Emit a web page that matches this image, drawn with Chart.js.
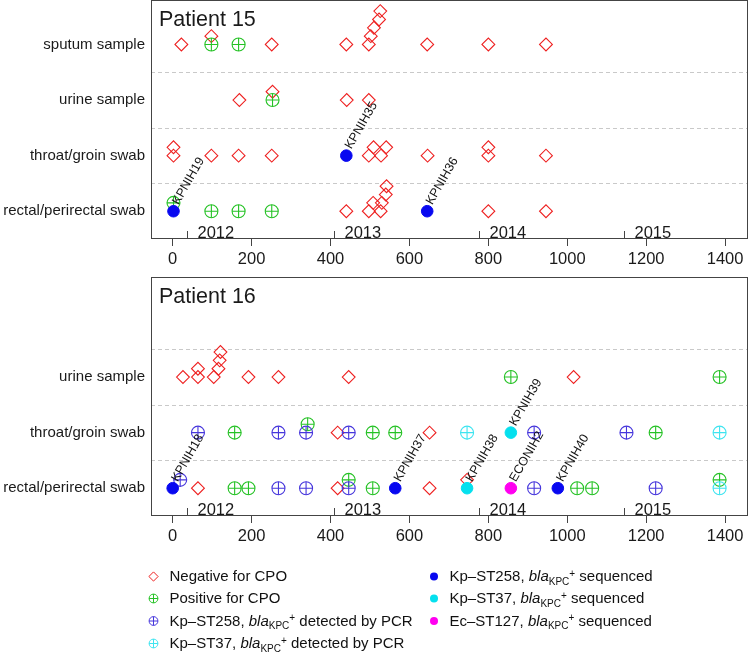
<!DOCTYPE html>
<html><head><meta charset="utf-8">
<script src="https://cdn.jsdelivr.net/npm/chart.js@4.4.1/dist/chart.umd.min.js"></script>
<style>
html,body{margin:0;padding:0;background:#fff;width:750px;height:656px;overflow:hidden}
canvas{position:absolute;left:0;display:block}
</style></head>
<body>
<canvas id="c1" width="750" height="272" style="top:0px;width:750px;height:272px"></canvas>
<canvas id="c2" width="750" height="384" style="top:272px;width:750px;height:384px"></canvas>
<script>
// ---------------- data ----------------
const rowNames = ['rectal/perirectal swab', 'throat/groin swab', 'urine sample', 'sputum sample'];
const xTickValues = [0, 200, 400, 600, 800, 1000, 1200, 1400];
const yearStartDays = [36, 408, 776, 1143];
const yearLabels = ['2012', '2013', '2014', '2015'];
const separatorValues = [1.5, 2.5, 3.5];

// Patient 15  (row: 1 rectal, 2 throat, 3 urine, 4 sputum; stack = order of repeated sample)
const p15Title = 'Patient 15';
const p15Rows = [1, 2, 3, 4];
const p15NegDay   = [22, 98, 251, 440, 497, 502, 510, 523, 526, 645, 800, 946,
                     169, 253, 441, 497,
                     2, 2, 98, 167, 251, 497, 509, 528, 541, 646, 800, 800, 946,
                     440, 497, 508, 527, 530, 540, 542, 800, 946];
const p15NegRow   = [4, 4, 4, 4, 4, 4, 4, 4, 4, 4, 4, 4,
                     3, 3, 3, 3,
                     2, 2, 2, 2, 2, 2, 2, 2, 2, 2, 2, 2, 2,
                     1, 1, 1, 1, 1, 1, 1, 1, 1];
const p15NegStack = [0, 1, 0, 0, 0, 1, 2, 3, 4, 0, 0, 0,
                     0, 1, 0, 0,
                     1, 0, 0, 0, 0, 0, 1, 0, 1, 0, 0, 1, 0,
                     0, 0, 1, 0, 1, 2, 3, 0, 0];
const p15PosDay   = [98, 167, 253, 2, 98, 167, 251];
const p15PosRow   = [4, 4, 3, 1, 1, 1, 1];
const p15PosStack = [0, 0, 0, 1, 0, 0, 0];
const p15Pcr258Day = [], p15Pcr258Row = [], p15Pcr258Stack = [];
const p15Pcr37Day = [], p15Pcr37Row = [], p15Pcr37Stack = [];
const p15Seq258Day = [2, 440, 645];
const p15Seq258Row = [1, 2, 1];
const p15Seq258Stack = [0, 0, 0];
const p15Seq258Label = ['KPNIH19', 'KPNIH35', 'KPNIH36'];
const p15Seq37Day = [], p15Seq37Row = [], p15Seq37Stack = [], p15Seq37Label = [];
const p15Seq127Day = [], p15Seq127Row = [], p15Seq127Stack = [], p15Seq127Label = [];

// Patient 16
const p16Title = 'Patient 16';
const p16Rows = [1, 2, 3];
const p16NegDay   = [26, 64, 64, 104, 116, 119, 121, 192, 268, 446, 1016,
                     418, 651,
                     64, 418, 651, 746];
const p16NegRow   = [3, 3, 3, 3, 3, 3, 3, 3, 3, 3, 3,
                     2, 2,
                     1, 1, 1, 1];
const p16NegStack = [0, 0, 1, 0, 1, 2, 3, 0, 0, 0, 0,
                     0, 0,
                     0, 0, 0, 1];
const p16PosDay   = [857, 1386, 157, 342, 507, 564, 1224, 157, 192, 446, 507, 1025, 1063, 1386];
const p16PosRow   = [3, 3, 2, 2, 2, 2, 2, 1, 1, 1, 1, 1, 1, 1];
const p16PosStack = [0, 0, 0, 1, 0, 0, 0, 0, 0, 1, 0, 0, 0, 1];
const p16Pcr258Day   = [64, 268, 338, 446, 916, 1150, 19, 268, 338, 446, 916, 1224];
const p16Pcr258Row   = [2, 2, 2, 2, 2, 2, 1, 1, 1, 1, 1, 1];
const p16Pcr258Stack = [0, 0, 0, 0, 0, 0, 1, 0, 0, 0, 0, 0];
const p16Pcr37Day   = [746, 1386, 1386];
const p16Pcr37Row   = [2, 2, 1];
const p16Pcr37Stack = [0, 0, 0];
const p16Seq258Day = [0, 564, 976];
const p16Seq258Row = [1, 1, 1];
const p16Seq258Stack = [0, 0, 0];
const p16Seq258Label = ['KPNIH18', 'KPNIH37', 'KPNIH40'];
const p16Seq37Day = [857, 746];
const p16Seq37Row = [2, 1];
const p16Seq37Stack = [0, 0];
const p16Seq37Label = ['KPNIH39', 'KPNIH38'];
const p16Seq127Day = [857];
const p16Seq127Row = [1];
const p16Seq127Stack = [0];
const p16Seq127Label = ['ECONIH2'];

// legend texts
const sup = '+', sub = 'KPC', italic = 'bla';
const legendCol1 = [
  {key: 'neg', parts: [['Negative for CPO', 'n']]},
  {key: 'pos', parts: [['Positive for CPO', 'n']]},
  {key: 'pcr258', parts: [['Kp\u2013ST258, ', 'n'], [italic, 'i'], [sub, 'sub'], [sup, 'sup'], [' detected by PCR', 'n']]},
  {key: 'pcr37', parts: [['Kp\u2013ST37, ', 'n'], [italic, 'i'], [sub, 'sub'], [sup, 'sup'], [' detected by PCR', 'n']]}
];
const legendCol2 = [
  {key: 'seq258', parts: [['Kp\u2013ST258, ', 'n'], [italic, 'i'], [sub, 'sub'], [sup, 'sup'], [' sequenced', 'n']]},
  {key: 'seq37', parts: [['Kp\u2013ST37, ', 'n'], [italic, 'i'], [sub, 'sub'], [sup, 'sup'], [' sequenced', 'n']]},
  {key: 'seq127', parts: [['Ec\u2013ST127, ', 'n'], [italic, 'i'], [sub, 'sub'], [sup, 'sup'], [' sequenced', 'n']]}
];

// ---------------- styles ----------------
const FONT = '"Liberation Sans", Arial, Helvetica, sans-serif';
const COLORS = {
  neg: '#ee1f1f', pos: '#25c225', pcr258: '#4636dc', pcr37: '#3ee4f0',
  seq258: '#0808f0', seq37: '#05e0ee', seq127: '#ff00f0'
};
const STACK_STEP = 0.15;

function pts(day, row, stack) {
  return day.map((d, i) => ({x: d, y: row[i] + STACK_STEP * stack[i]}));
}

function filledDs(data, color, labels) {
  return {data, pointStyle: 'circle', pointRadius: 5.8, pointHoverRadius: 5.8,
    pointBackgroundColor: color, pointBorderColor: color, pointBorderWidth: 1, isoLabels: labels};
}
function openDs(data, color, style, r) {
  return {data, pointStyle: style, pointRadius: r, pointHoverRadius: r,
    pointBackgroundColor: 'rgba(0,0,0,0)', pointBorderColor: color, pointBorderWidth: 1.1};
}

function buildDatasets(p) {
  const ds = [];
  ds.push(filledDs(pts(p.seq127[0], p.seq127[1], p.seq127[2]), COLORS.seq127, p.seq127[3]));
  ds.push(filledDs(pts(p.seq37[0], p.seq37[1], p.seq37[2]), COLORS.seq37, p.seq37[3]));
  ds.push(filledDs(pts(p.seq258[0], p.seq258[1], p.seq258[2]), COLORS.seq258, p.seq258[3]));
  [['pcr37', p.pcr37], ['pcr258', p.pcr258], ['pos', p.pos]].forEach(([k, a]) => {
    const d = pts(a[0], a[1], a[2]);
    ds.push(openDs(d, COLORS[k], 'cross', 6.5));
    ds.push(openDs(d, COLORS[k], 'circle', 6.5));
  });
  ds.push(openDs(pts(p.neg[0], p.neg[1], p.neg[2]), COLORS.neg, 'rectRot', 6.4));
  return ds;
}

// ---------------- plugins ----------------
const decorPlugin = {
  id: 'decor',
  beforeDatasetsDraw(chart) {
    const {ctx, chartArea: a, scales: {x, y}} = chart;
    const panel = chart.options.plugins.decor;
    ctx.save();
    ctx.strokeStyle = '#c9c9c9'; ctx.lineWidth = 1; ctx.setLineDash([4, 3]);
    separatorValues.forEach(v => {
      const py = Math.round(y.getPixelForValue(v)) + 0.5;
      ctx.beginPath(); ctx.moveTo(a.left, py); ctx.lineTo(a.right, py); ctx.stroke();
    });
    ctx.setLineDash([]);
    ctx.strokeStyle = '#444';
    ctx.strokeRect(Math.round(a.left) + 0.5, Math.round(a.top) + 0.5,
      Math.round(a.right - a.left) - 1, Math.round(a.bottom - a.top) - 1);
    // year ticks and labels
    ctx.font = '16.5px ' + FONT; ctx.fillStyle = '#1a1a1a';
    ctx.textAlign = 'left'; ctx.textBaseline = 'alphabetic';
    yearStartDays.forEach((d, i) => {
      const px = Math.round(x.getPixelForValue(d)) + 0.5;
      ctx.beginPath(); ctx.moveTo(px, a.bottom - 8); ctx.lineTo(px, a.bottom); ctx.stroke();
      ctx.fillText(yearLabels[i], px + 10, a.bottom - 1.5);
    });
    // title
    ctx.font = '21.5px ' + FONT;
    ctx.fillText(panel.title, a.left + 8, a.top + 25.5);
    ctx.restore();
  }
};

const isoLabelPlugin = {
  id: 'isoLabels',
  afterDatasetsDraw(chart) {
    const ctx = chart.ctx;
    ctx.save();
    ctx.font = '12.5px ' + FONT; ctx.fillStyle = '#111';
    ctx.textAlign = 'left'; ctx.textBaseline = 'middle';
    chart.data.datasets.forEach((ds, di) => {
      if (!ds.isoLabels) return;
      const meta = chart.getDatasetMeta(di);
      meta.data.forEach((pt, i) => {
        const lab = ds.isoLabels[i];
        if (!lab) return;
        ctx.save();
        ctx.translate(pt.x + 2, pt.y - 7.5);
        ctx.rotate(-Math.PI / 3);
        ctx.fillText(lab, 0, 0);
        ctx.restore();
      });
    });
    ctx.restore();
  }
};

function drawSymbol(ctx, key, x, y) {
  ctx.save();
  ctx.lineWidth = 1;
  const c = COLORS[key];
  ctx.strokeStyle = c; ctx.fillStyle = c;
  ctx.beginPath();
  if (key === 'neg') {
    const r = 4.6;
    ctx.moveTo(x - r, y); ctx.lineTo(x, y - r); ctx.lineTo(x + r, y); ctx.lineTo(x, y + r); ctx.closePath();
    ctx.stroke();
  } else if (key.startsWith('seq')) {
    ctx.arc(x, y, 4, 0, Math.PI * 2); ctx.fill();
  } else {
    const r = 4.4;
    ctx.arc(x, y, r, 0, Math.PI * 2);
    ctx.moveTo(x - r, y); ctx.lineTo(x + r, y);
    ctx.moveTo(x, y - r); ctx.lineTo(x, y + r);
    ctx.stroke();
  }
  ctx.restore();
}

const legendPlugin = {
  id: 'customLegend',
  afterDraw(chart) {
    const opts = chart.options.plugins.customLegend;
    if (!opts || !opts.show) return;
    const ctx = chart.ctx;
    ctx.save();
    ctx.fillStyle = '#111'; ctx.textAlign = 'left'; ctx.textBaseline = 'alphabetic';
    const baselines = [309, 331, 353.5, 376];
    const cols = [[legendCol1, 153.5, 169.5], [legendCol2, 434, 449.5]];
    cols.forEach(([items, sx, tx]) => {
      items.forEach((it, i) => {
        const b = baselines[i];
        drawSymbol(ctx, it.key, sx, b - 4.5);
        let cx = tx;
        it.parts.forEach(([t, k]) => {
          let dy = 0;
          if (k === 'n') ctx.font = '15px ' + FONT;
          else if (k === 'i') ctx.font = 'italic 15px ' + FONT;
          else if (k === 'sub') { ctx.font = '10px ' + FONT; dy = 3.5; }
          else { ctx.font = '10px ' + FONT; dy = -4.5; }
          ctx.fillText(t, cx, b + dy);
          cx += ctx.measureText(t).width;
        });
      });
    });
    ctx.restore();
  }
};

function zeroPad(s) { s.paddingTop = 0; s.paddingBottom = 0; s.paddingLeft = 0; s.paddingRight = 0; }

function makeChart(id, p, padding, showLegend) {
  return new Chart(document.getElementById(id), {
    type: 'scatter',
    data: {datasets: buildDatasets(p)},
    plugins: [decorPlugin, isoLabelPlugin, legendPlugin],
    options: {
      responsive: false, animation: false, devicePixelRatio: 1, events: [],
      layout: {padding, autoPadding: false},
      plugins: {legend: {display: false}, tooltip: {enabled: false},
        decor: {title: p.title}, customLegend: {show: showLegend}},
      scales: {
        x: {
          type: 'linear', min: -55, max: 1458,
          afterBuildTicks: s => { s.ticks = xTickValues.map(v => ({value: v})); },
          afterFit: s => { s.height = 33; zeroPad(s); },
          grid: {drawOnChartArea: false, drawTicks: true, tickLength: 7, color: '#444', lineWidth: 1},
          border: {display: false},
          ticks: {font: {family: FONT, size: 16.5}, color: '#1a1a1a', padding: 4,
            maxRotation: 0, autoSkip: false, callback: v => String(v)}
        },
        y: {
          type: 'linear', min: 0.5, max: 4.8,
          afterBuildTicks: s => { s.ticks = [1, 2, 3, 4].map(v => ({value: v})); },
          afterFit: s => { s.width = 151; zeroPad(s); },
          grid: {display: false, drawTicks: false},
          border: {display: false},
          ticks: {font: {family: FONT, size: 15}, color: '#1a1a1a', padding: 6, autoSkip: false,
            callback: v => (p.rows.includes(v) ? rowNames[v - 1] : '')}
        }
      }
    }
  });
}

const panel15 = {
  title: p15Title, rows: p15Rows,
  neg: [p15NegDay, p15NegRow, p15NegStack], pos: [p15PosDay, p15PosRow, p15PosStack],
  pcr258: [p15Pcr258Day, p15Pcr258Row, p15Pcr258Stack], pcr37: [p15Pcr37Day, p15Pcr37Row, p15Pcr37Stack],
  seq258: [p15Seq258Day, p15Seq258Row, p15Seq258Stack, p15Seq258Label],
  seq37: [p15Seq37Day, p15Seq37Row, p15Seq37Stack, p15Seq37Label],
  seq127: [p15Seq127Day, p15Seq127Row, p15Seq127Stack, p15Seq127Label]
};
const panel16 = {
  title: p16Title, rows: p16Rows,
  neg: [p16NegDay, p16NegRow, p16NegStack], pos: [p16PosDay, p16PosRow, p16PosStack],
  pcr258: [p16Pcr258Day, p16Pcr258Row, p16Pcr258Stack], pcr37: [p16Pcr37Day, p16Pcr37Row, p16Pcr37Stack],
  seq258: [p16Seq258Day, p16Seq258Row, p16Seq258Stack, p16Seq258Label],
  seq37: [p16Seq37Day, p16Seq37Row, p16Seq37Stack, p16Seq37Label],
  seq127: [p16Seq127Day, p16Seq127Row, p16Seq127Stack, p16Seq127Label]
};

makeChart('c1', panel15, {top: 0, right: 2, bottom: 0, left: 0}, false);
makeChart('c2', panel16, {top: 5, right: 2, bottom: 107, left: 0}, true);
</script>
</body></html>
